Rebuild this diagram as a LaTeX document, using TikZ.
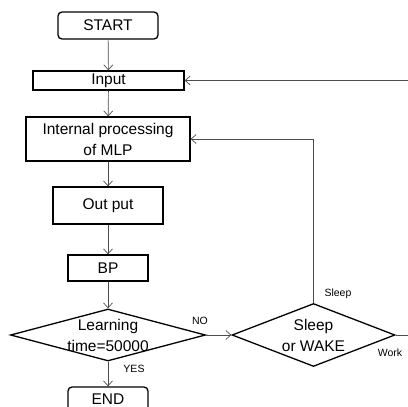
\documentclass[tikz,border=0pt]{standalone}
\usepackage{fontspec}
\setmainfont{Liberation Sans}
\usetikzlibrary{shapes.geometric,arrows.meta}

\begin{document}
\begin{tikzpicture}[x=1pt,y=-1pt]
      \tikzstyle{every node}=[font=\fontsize{15.5}{21}\selectfont]
      \tikzstyle{box}=[rectangle,draw,line width=1.3pt,inner sep=0pt,align=center]
      \tikzstyle{term}=[box,rounded corners=4pt]
      \tikzstyle{decision}=[diamond,draw,line width=1.3pt,inner sep=0pt]
      \tikzstyle{flow}=[draw=black!70,line width=0.7pt,-{Straight Barb[length=5pt,width=9pt]}]
      \tikzstyle{tag}=[font=\fontsize{10.5}{12}\selectfont]
      \useasboundingbox (0,0) rectangle (408,407);
      % main column
      \node[term,minimum width=100pt,minimum height=27pt] (start) at (108,25.5) {START};
      \node[box,minimum width=151pt,minimum height=19pt] (input) at (108.5,80.5) {Input};
      \node[box,minimum width=164pt,minimum height=44pt] (proc) at (108,139) {Internal processing\\of MLP};
      \node[box,minimum width=110pt,minimum height=37pt] (output) at (108,205.5) {Out put};
      \node[box,minimum width=80pt,minimum height=26pt] (bp) at (108,268) {BP};
      \node[decision,minimum width=195pt,minimum height=52pt] (learn) at (108,335) {};
      \node[align=center] (learntxt) at (learn) {Learning\\time=50000};
      \node[term,minimum width=80pt,minimum height=24pt] (end) at (108,399) {END};
      % sleep / wake branch
      \node[decision,minimum width=163pt,minimum height=63pt] (wake) at (313.5,335) {};
      \node[align=center] (waketxt) at (wake) {Sleep\\or WAKE};
      \coordinate (work) at (411,335);
      \draw[flow] (start) -- (input);
      \draw[flow] (input) -- (proc);
      \draw[flow] (proc) -- (output);
      \draw[flow] (output) -- (bp);
      \draw[flow] (bp) -- (learn);
      \draw[flow] (learn) -- (end);
      \draw[flow] (learn.east) -- (wake.west);
      \draw[flow] (wake.north) |- (proc.east);
      \draw[flow] (wake.east) -- (work) |- (input.east);
      \node[tag] (no) at (200,321) {NO};
      \node[tag] (yes) at (134,369) {YES};
      \node[tag] (sleep) at (338,294) {Sleep};
      \node[tag] (workl) at (390,353) {Work};
\end{tikzpicture}
\end{document}
